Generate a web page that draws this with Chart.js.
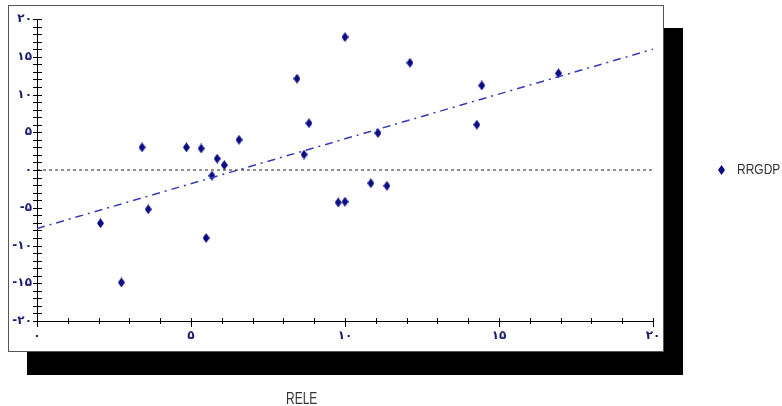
<!DOCTYPE html>
<html>
<head>
<meta charset="utf-8">
<script src="https://cdn.jsdelivr.net/npm/chart.js@4"></script>
<style>
body { margin: 0; background: #fff; }
#wrap { position: relative; width: 782px; height: 406px; overflow: hidden; }
#shadow { position: absolute; left: 27px; top: 28px; width: 656px; height: 347px; background: #000; }
#frame { position: absolute; left: 8px; top: 5px; width: 654px; height: 345px; background: #fff; border: 1px solid #555; }
#myChart { position: absolute; left: 0; top: 0; }
.txt { position: absolute; font-family: "Liberation Sans", Arial, sans-serif; color: #333; white-space: nowrap; }
#legend { left: 737px; top: 162px; font-size: 12px; transform: scaleY(1.25); transform-origin: left center; }
#legendMark { position: absolute; left: 718px; top: 165px; }
#xtitle { left: 286px; top: 389px; font-size: 12px; transform: scaleY(1.35); transform-origin: left top; }
</style>
</head>
<body>
<div id="wrap">
    <div id="shadow"></div>
    <div id="frame"></div>
    <canvas id="myChart" width="782" height="406"></canvas>
    <canvas id="legendMark" width="7" height="10"></canvas>
    <div class="txt" id="legend">RRGDP</div>
    <div class="txt" id="xtitle">RELE</div>
</div>
<script>
// RELE (x) and RRGDP (y)
var xValues = [2.06, 2.74, 3.41, 3.61, 4.85, 5.33, 5.49, 5.68, 5.85, 6.08, 6.56, 8.44,
               8.67, 8.83, 9.78, 10.0, 10.0, 10.84, 11.07, 11.36, 12.11, 14.28, 14.44, 16.93];
var yValues = [-7.05, -14.9, 3.0, -5.2, 3.0, 2.85, -9.0, -0.75, 1.5, 0.65, 4.0, 12.1,
               2.05, 6.2, -4.3, 17.6, -4.2, -1.75, 4.9, -2.1, 14.2, 6.0, 11.2, 12.8];
// fitted line and zero line
var fitX = [0, 20];
var fitY = [-7.75, 16.0];
var zeroX = [0, 20];
var zeroY = [0, 0];

var faDigits = '۰۱۲۳۴۵۶۷۸۹';
function toFa(n) {
    var s = String(Math.abs(n)).replace(/[0-9]/g, function (d) { return faDigits[d]; });
    return n < 0 ? '-' + s : s;
}

function diamond(w, h, color) {
    var c = document.createElement('canvas');
    c.width = w; c.height = h;
    var g = c.getContext('2d');
    g.fillStyle = color;
    g.beginPath();
    g.moveTo(w / 2, 0); g.lineTo(w, h / 2); g.lineTo(w / 2, h); g.lineTo(0, h / 2);
    g.closePath();
    g.fill();
    return c;
}
var dot = diamond(7, 10, '#0b0b85');

// legend marker
var lm = document.getElementById('legendMark').getContext('2d');
lm.drawImage(dot, 0, 0);

function pts(xs, ys) {
    return xs.map(function (x, i) { return { x: x, y: ys[i] }; });
}

// ticks that cross the axis lines, every 1 unit
var crossTicks = {
    id: 'crossTicks',
    afterDraw: function (chart) {
        var ctx = chart.ctx, xs = chart.scales.x, ys = chart.scales.y;
        ctx.save();
        ctx.strokeStyle = '#000';
        ctx.lineWidth = 1;
        ctx.beginPath();
        for (var v = -20; v <= 20; v++) {
            var py = Math.round(ys.getPixelForValue(v)) + 0.5;
            ctx.moveTo(xs.left - 4, py);
            ctx.lineTo(xs.left + 5, py);
        }
        for (var u = 0; u <= 20; u++) {
            var px = Math.round(xs.getPixelForValue(u)) + 0.5;
            ctx.moveTo(px, ys.bottom - 3);
            ctx.lineTo(px, ys.bottom + (u % 5 === 0 ? 6 : 3));
        }
        ctx.stroke();
        ctx.restore();
    }
};

var tickFont = { family: 'DejaVu Sans', size: 12, weight: 'bold' };

var ctx1 = document.getElementById('myChart').getContext('2d');
var myChart = new Chart(ctx1, {
    type: 'scatter',
    data: {
        datasets: [
            {
                label: 'zero',
                type: 'line',
                data: pts(zeroX, zeroY),
                borderColor: '#222',
                borderWidth: 1,
                borderDash: [3, 3],
                pointRadius: 0
            },
            {
                label: 'fit',
                type: 'line',
                data: pts(fitX, fitY),
                borderColor: '#3a3ab8',
                borderWidth: 1.5,
                borderDash: [8, 5, 2, 5],
                pointRadius: 0
            },
            {
                label: 'RRGDP',
                data: pts(xValues, yValues),
                pointStyle: dot,
                pointRadius: 5,
                backgroundColor: '#0b0b85'
            }
        ]
    },
    options: {
        responsive: false,
        animation: false,
        layout: { padding: { left: 0, top: 19, right: 129, bottom: 0 } },
        plugins: {
            legend: { display: false },
            tooltip: { enabled: false }
        },
        scales: {
            x: {
                type: 'linear',
                min: 0, max: 20,
                afterFit: function (s) { s.height = 85; },
                grid: { display: false, drawTicks: false },
                border: { display: true, color: '#000', width: 1 },
                ticks: { stepSize: 5, padding: 8, color: '#1c1c6e', font: tickFont, callback: toFa, maxRotation: 0 }
            },
            y: {
                min: -20, max: 20,
                afterFit: function (s) { s.width = 37; },
                grid: { display: false, drawTicks: false },
                border: { display: true, color: '#000', width: 1 },
                ticks: { stepSize: 5, padding: 5, color: '#1c1c6e', font: tickFont, callback: toFa }
            }
        }
    },
    plugins: [crossTicks]
});
</script>
</body>
</html>
